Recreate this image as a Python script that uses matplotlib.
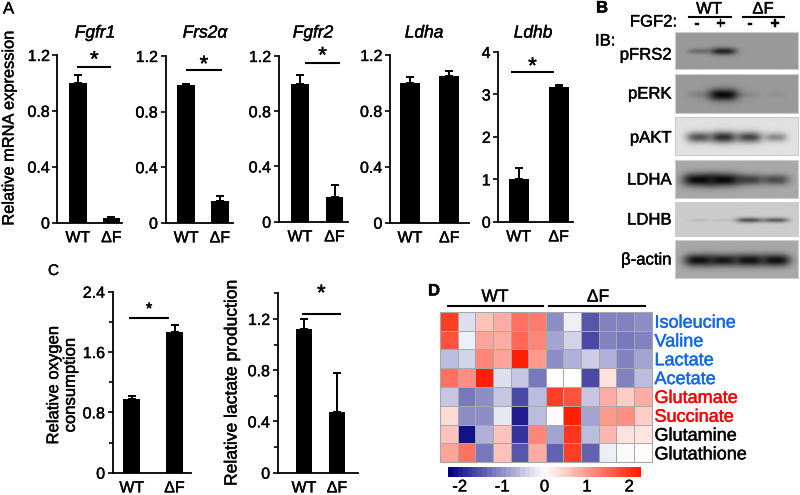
import numpy as np
import matplotlib
matplotlib.use('Agg')
import matplotlib.pyplot as plt
import matplotlib.patheffects as pe
from matplotlib.colors import LinearSegmentedColormap
from matplotlib.text import Text

plt.rcParams['font.family'] = ['Liberation Sans', 'DejaVu Sans']
plt.rcParams['font.size'] = 11.5

W, H = 800, 495

groups = ['WT', 'ΔF']

# panel A
genes = ['Fgfr1', 'Frs2α', 'Fgfr2', 'Ldha', 'Ldhb']
gene_means = [[1.0, 0.035], [0.99, 0.155], [1.0, 0.18], [1.0, 1.05], [1.0, 3.17]]
gene_errs = [[0.055, 0.005], [0.005, 0.04], [0.065, 0.085], [0.04, 0.035], [0.27, 0.06]]
gene_ticks = [[0, 0.4, 0.8, 1.2]] * 4 + [[0, 1, 2, 3, 4]]
gene_ticklabels = [['0', '0.4', '0.8', '1.2']] * 4 + [['0', '1', '2', '3', '4']]

# panel C
oxygen_means = [0.98, 1.87]
oxygen_errs = [0.04, 0.09]
lactate_means = [1.12, 0.47]
lactate_errs = [0.08, 0.31]

# panel B
blot_names = ['pFRS2', 'pERK', 'pAKT', 'LDHA', 'LDHB', 'β-actin']
blot_bg = [0.60, 0.60, 0.88, 0.66, 0.80, 0.66]
blot_bands = [[0.30, 0.75, 0.0, 0.0],
              [0.15, 0.95, 0.10, 0.05],
              [0.62, 0.78, 0.68, 0.38],
              [0.95, 0.95, 0.62, 0.55],
              [0.08, 0.07, 0.60, 0.55],
              [0.90, 0.85, 0.90, 0.90]]

# panel D
metabolites = ['Isoleucine', 'Valine', 'Lactate', 'Acetate',
               'Glutamate', 'Succinate', 'Glutamine', 'Glutathione']
metabolite_colors = ['#1166ee'] * 4 + ['#ff0000'] * 2 + ['black'] * 2
heat = [[1.9, -0.3, 0.6, 0.8, 1.4, 1.3, -1.0, -0.15, -1.5, -1.1, -1.1, -1.0],
        [1.7, -0.15, 0.9, 0.8, 1.5, 1.2, -0.8, -0.4, -1.6, -1.1, -1.2, -1.1],
        [-0.6, -0.4, 1.2, 0.9, 2.2, 1.0, -1.0, -0.7, -0.45, -0.7, -1.1, -0.8],
        [1.4, 1.1, 2.2, -0.3, -0.5, -1.2, 0.0, 0.0, -1.6, 0.3, -1.1, -0.6],
        [-0.5, -1.2, -1.0, -0.5, -1.6, -0.6, 1.9, 1.7, -0.5, 0.8, 0.5, 0.8],
        [0.35, -1.0, -1.0, -0.2, -2.0, -0.6, 0.05, 2.2, -0.8, 1.0, 1.1, 0.5],
        [0.6, -2.1, -0.7, 0.6, -1.8, 1.2, -0.8, 2.0, -0.6, 0.7, 0.3, 0.25],
        [0.9, 1.4, -1.2, 0.6, -1.5, 0.8, -1.4, 1.9, -1.4, -0.15, -0.05, 0.03]]
bar_ticks = [-2, -1, 0, 1, 2]
bar_ticklabels = ['-2', '-1', '0', '1', '2']


def px_axes(fig, x0, y_top, x1, y_bottom, **kw):
    return fig.add_axes([x0 / W, 1 - y_bottom / H, (x1 - x0) / W, (y_bottom - y_top) / H], **kw)


def bar_panel(fig, box, centers, width, means, errs, ymax, ticks, labels, minor=None):
    # box is spine x, top y, right end of x axis, baseline y, all in pixels
    x0, y_top, x1, y0 = box
    ax = px_axes(fig, x0, y_top, x1, y0)
    step = centers[1] - centers[0]
    ax.bar([0, 1], means, width=width / step, color='black')
    ax.errorbar([0, 1], means, yerr=[[0, 0], errs], fmt='none', ecolor='black',
                elinewidth=1.4, capsize=2.6, capthick=1.4)
    ax.set_xlim((x0 - centers[0]) / step, (x1 - centers[0]) / step)
    ax.set_ylim(0, ymax)
    ax.set_yticks(ticks)
    ax.set_yticklabels(labels)
    if minor:
        ax.set_yticks(minor, minor=True)
        ax.tick_params(axis='y', which='minor', length=3, width=1.2)
    ax.set_xticks([0, 1])
    ax.set_xticklabels(groups)
    ax.tick_params(axis='x', length=0, pad=5.5)
    ax.tick_params(axis='y', which='major', length=3.5, width=1.2, pad=2)
    for s in ['top', 'right']:
        ax.spines[s].set_visible(False)
    for s in ['left', 'bottom']:
        ax.spines[s].set_linewidth(1.3)
    ax.patch.set_alpha(0)
    return ax


def sig(ax, x0, x1, y, star_y, size=16):
    ax.plot([x0, x1], [y, y], color='black', lw=1.5, clip_on=False, solid_capstyle='butt')
    ax.annotate('*', ((x0 + x1) / 2, star_y), xytext=(0, -2.5), textcoords='offset points',
                ha='center', va='center', fontsize=size, annotation_clip=False)


def blot_image(bg, bands, sig_y, half_w):
    h, w = 38, 122
    yy, xx = np.mgrid[0:h, 0:w]
    img = np.full((h, w), bg, dtype=float)
    for lane, d in zip([0.19, 0.39, 0.60, 0.815], bands):
        s = np.exp(-np.abs((xx - lane * w) / (half_w * (0.7 + 0.4 * d))) ** 3)
        s = s * np.exp(-((yy - h * 0.52) / (sig_y * (0.6 + 0.6 * d))) ** 2)
        img = img * (1 - d * s)
    return img


fig = plt.figure(figsize=(W / 100, H / 100), dpi=100)
page = fig.add_axes([0, 0, 1, 1])
page.set_xlim(0, W)
page.set_ylim(H, 0)
page.axis('off')

# A
a_boxes = [(57.5, 55, 122, 222.5), (165.5, 56, 233, 222.7), (278.7, 56, 347.7, 221.7),
           (390, 55, 469, 222.7), (498.3, 52, 572.7, 221.7)]
a_centers = [(77.9, 111.4), (186.2, 219.9), (300, 334.5), (410, 449.3), (518.7, 558.7)]
a_widths = [17.7, 17.7, 17.7, 20, 19.6]
a_ymax = [1.2, 1.2, 1.2, 1.2, 4]
a_titles_x = [95, 205, 313, 424, 533]
a_sig = [(-0.02, 1.0, 1.115, 1.183), (0.0, 1.05, 1.1, 1.157), (0.145, 1.16, 1.15, 1.22), None,
         (-0.2, 0.89, 3.52, 3.72)]
for i in range(5):
    ax = bar_panel(fig, a_boxes[i], a_centers[i], a_widths[i], gene_means[i], gene_errs[i],
                   a_ymax[i], gene_ticks[i], gene_ticklabels[i])
    page.text(a_titles_x[i], 33, genes[i], style='italic', ha='center', va='center', fontsize=12.5)
    if a_sig[i]:
        x0, x1, y, sy = a_sig[i]
        sig(ax, x0, x1, y, sy)
page.text(9, 128, 'Relative mRNA expression', rotation=90, ha='center', va='center', fontsize=11.8)
page.text(3, 9, 'A', ha='left', va='center', fontsize=12)

# C
ax = bar_panel(fig, (112.7, 291.7, 191, 472.7), (131.8, 174.5), 17, oxygen_means, oxygen_errs,
               2.4, [0, 0.8, 1.6, 2.4], ['0', '0.8', '1.6', '2.4'], minor=[0.4, 1.2, 2.0])
sig(ax, -0.06, 0.87, 2.05, 2.21, size=12)
ax = bar_panel(fig, (277.7, 293.3, 358, 472.7), (304, 337), 16, lactate_means, lactate_errs,
               1.4, [0, 0.4, 0.8, 1.2], ['0', '0.4', '0.8', '1.2'], minor=[0.2, 0.6, 1.0, 1.4])
sig(ax, -0.07, 1.12, 1.238, 1.418, size=16)
page.text(62, 385, 'Relative oxygen\nconsumption', rotation=90, ha='center', va='center',
          fontsize=12, linespacing=1.15)
page.text(232, 383, 'Relative lactate production', rotation=90, ha='center', va='center', fontsize=12.6)
page.text(48, 271, 'C', ha='left', va='center', fontsize=11)

# B
blot_tops = [31.7, 74, 117.3, 160, 202.3, 240]
blot_bottoms = [69.3, 112.7, 155, 198.3, 235.7, 277.7]
blot_label_y = [55, 94, 138, 180, 220, 260]
blot_sig = [3.5, 5, 5.5, 5.5, 3, 5.5]
blot_hw = [13, 14, 13, 15, 14, 14]
for i, name in enumerate(blot_names):
    ax = px_axes(fig, 675, blot_tops[i], 797.7, blot_bottoms[i])
    ax.imshow(blot_image(blot_bg[i], blot_bands[i], blot_sig[i], blot_hw[i]), cmap='gray',
              vmin=0, vmax=1, aspect='auto', interpolation='bilinear')
    ax.set_xticks([])
    ax.set_yticks([])
    for s in ax.spines.values():
        s.set_color('#cccccc')
    page.text(671.5, blot_label_y[i], name, ha='right', va='center', fontsize=12)
page.text(596, 8, 'B', ha='left', va='center', fontsize=12, fontweight='bold')
page.text(677, 22, 'FGF2:', ha='right', va='center', fontsize=12)
page.text(595, 41, 'IB:', ha='left', va='center', fontsize=12)
page.text(709, 9, 'WT', ha='center', va='center', fontsize=12)
page.text(763, 9, 'ΔF', ha='center', va='center', fontsize=12)
page.plot([689, 731], [16.7, 16.7], color='black', lw=1.5)
page.plot([743, 784], [16.7, 16.7], color='black', lw=1.5)
for x, s in zip([696.7, 720.7, 750, 775], ['-', '+', '-', '+']):
    page.text(x, 24, s, ha='center', va='center', fontsize=12)

# D
cmap = LinearSegmentedColormap.from_list('navy_red', ['#000080', '#ffffff', '#ff1a00'])
ax = px_axes(fig, 440, 311.7, 651.7, 462.3)
ax.pcolormesh(np.array(heat), cmap=cmap, vmin=-2.27, vmax=2.27, edgecolors='#a8a8a8', linewidth=0.7)
ax.set_ylim(8, 0)
ax.set_xticks([])
ax.yaxis.tick_right()
ax.set_yticks(np.arange(8) + 0.5)
ax.set_yticklabels(metabolites, fontsize=13)
ax.tick_params(axis='y', length=0, pad=2)
for lab, c in zip(ax.get_yticklabels(), metabolite_colors):
    lab.set_color(c)
for s in ax.spines.values():
    s.set_color('#a8a8a8')

ax = px_axes(fig, 448.3, 466.7, 640.7, 477.3)
levels = np.linspace(-2.27, 2.27, 41)
ax.pcolormesh(levels, [0, 1], np.array([(levels[:-1] + levels[1:]) / 2]), cmap=cmap, vmin=-2.27, vmax=2.27)
ax.set_yticks([])
ax.set_xticks(bar_ticks)
ax.set_xticklabels(bar_ticklabels, fontsize=12)
ax.tick_params(axis='x', length=0, pad=1.5)
for s in ax.spines.values():
    s.set_visible(False)

page.text(428, 291, 'D', ha='left', va='center', fontsize=12, fontweight='bold')
page.text(495, 297, 'WT', ha='center', va='center', fontsize=12.5)
page.text(598, 297, 'ΔF', ha='center', va='center', fontsize=12.5)
page.plot([448, 543], [306, 306], color='black', lw=1.5)
page.plot([549, 645], [306, 306], color='black', lw=1.5)

# the reference text is heavier than regular weight
for t in fig.findobj(Text):
    t.set_path_effects([pe.Stroke(linewidth=0.3), pe.Normal()])

fig.savefig('out.png', dpi=100)
